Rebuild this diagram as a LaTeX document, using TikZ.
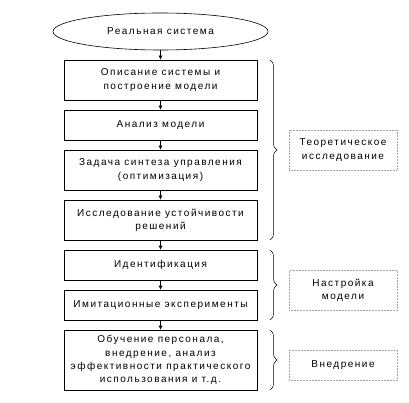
\documentclass[tikz,border=0pt]{standalone}
\usepackage{fontspec}
\setmainfont{Liberation Sans}[LetterSpace=15]
\usetikzlibrary{shapes.geometric,arrows.meta,decorations.pathreplacing}
\begin{document}
\begin{tikzpicture}[x=1pt,y=-1pt,
  every node/.style={font=\fontsize{10}{13.3}\selectfont, align=center, inner sep=0pt},
  stepbox/.style={draw, line width=0.6pt, minimum width=193pt},
  labelbox/.style={draw=gray!70, densely dotted, line width=0.5pt, minimum width=108pt},
  flow/.style={-{Latex[length=4pt,width=4pt]}, line width=0.6pt},
  brc/.style={decorate, decoration={brace, amplitude=7pt}, line width=0.5pt}]
\useasboundingbox (0,0) rectangle (409,403);
\node[draw, ellipse, line width=0.6pt, minimum width=215pt, minimum height=37pt] (ell) at (160.5,31.5) {Реальная система};
\node[stepbox, minimum height=40pt] (b1) at (160.5,80) {Описание системы и\\построение модели};
\node[stepbox, minimum height=30pt] (b2) at (160.5,125) {Анализ модели};
\node[stepbox, minimum height=40pt] (b3) at (160.5,170) {Задача синтеза управления\\(оптимизация)};
\node[stepbox, minimum height=40pt] (b4) at (160.5,220) {Исследование устойчивости\\решений};
\node[stepbox, minimum height=30pt] (b5) at (160.5,265) {Идентификация};
\node[stepbox, minimum height=30pt] (b6) at (160.5,305) {Имитационные эксперименты};
\node[stepbox, minimum height=60pt] (b7) at (160.5,360) {Обучение персонала,\\внедрение, анализ\\эффективности практического\\использования и т.д.};
\node[labelbox, minimum height=40pt] (l1) at (343,150) {Теоретическое\\исследование};
\node[labelbox, minimum height=40pt] (l2) at (343,290) {Настройка\\модели};
\node[labelbox, minimum height=30pt] (l3) at (343,365) {Внедрение};
\draw[flow] (ell) -- (b1);
\draw[flow] (b1) -- (b2);
\draw[flow] (b2) -- (b3);
\draw[flow] (b3) -- (b4);
\draw[flow] (b4) -- (b5);
\draw[flow] (b5) -- (b6);
\draw[flow] (b6) -- (b7);
\coordinate (t1) at (270,60);
\coordinate (e1) at (270,240);
\coordinate (t2) at (270,250);
\coordinate (e2) at (270,320);
\coordinate (t3) at (270,330);
\coordinate (e3) at (270,390);
\draw[brc] (t1) -- (e1);
\draw[brc] (t2) -- (e2);
\draw[brc] (t3) -- (e3);
\end{tikzpicture}
\end{document}
